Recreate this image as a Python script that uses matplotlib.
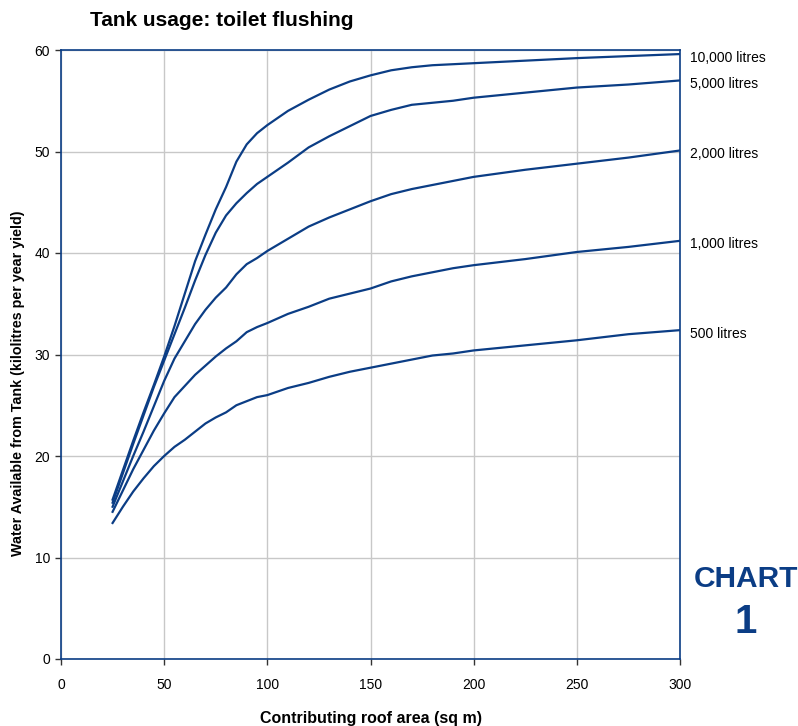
import matplotlib

matplotlib.use("Agg")
import matplotlib.pyplot as plt

plt.rcParams["font.family"] = ["Liberation Sans", "DejaVu Sans"]

# contributing roof area (sq m)
roof_area = [25, 30, 35, 40, 45, 50, 55, 60, 65, 70, 75, 80, 85, 90, 95, 100,
             110, 120, 130, 140, 150, 160, 170, 180, 190, 200, 225, 250, 275, 300]

# water available from tank (kL per year), one list per tank size
tank_10000 = [15.7, 18.6, 21.5, 24.3, 27.0, 29.8, 32.8, 36.0, 39.2, 41.8, 44.3, 46.5, 49.0, 50.7, 51.8, 52.6,
              54.0, 55.1, 56.1, 56.9, 57.5, 58.0, 58.3, 58.5, 58.6, 58.7, 58.95, 59.2, 59.4, 59.6]
tank_5000 = [15.4, 18.3, 21.2, 24.0, 26.8, 29.4, 32.0, 34.6, 37.3, 39.8, 42.0, 43.7, 44.9, 45.9, 46.8, 47.5,
             48.9, 50.4, 51.5, 52.5, 53.5, 54.1, 54.6, 54.8, 55.0, 55.3, 55.8, 56.3, 56.6, 57.0]
tank_2000 = [15.0, 17.5, 20.0, 22.4, 24.9, 27.4, 29.6, 31.3, 33.0, 34.4, 35.6, 36.6, 37.9, 38.9, 39.5, 40.2,
             41.4, 42.6, 43.5, 44.3, 45.1, 45.8, 46.3, 46.7, 47.1, 47.5, 48.2, 48.8, 49.4, 50.1]
tank_1000 = [14.5, 16.6, 18.7, 20.6, 22.5, 24.2, 25.8, 26.9, 28.0, 28.9, 29.8, 30.6, 31.3, 32.2, 32.7, 33.1,
             34.0, 34.7, 35.5, 36.0, 36.5, 37.2, 37.7, 38.1, 38.5, 38.8, 39.4, 40.1, 40.6, 41.2]
tank_500 = [13.4, 15.0, 16.5, 17.8, 19.0, 20.0, 20.9, 21.6, 22.4, 23.2, 23.8, 24.3, 25.0, 25.4, 25.8, 26.0,
            26.7, 27.2, 27.8, 28.3, 28.7, 29.1, 29.5, 29.9, 30.1, 30.4, 30.9, 31.4, 32.0, 32.4]

series = [tank_10000, tank_5000, tank_2000, tank_1000, tank_500]
labels = ["10,000 litres", "5,000 litres", "2,000 litres", "1,000 litres", "500 litres"]

line_color = "#0b3d85"

fig = plt.figure(figsize=(7.98, 7.26), dpi=100)
ax = fig.add_axes([61 / 798, 1 - 659 / 726, (680 - 61) / 798, (659 - 50) / 726])

for values, label in zip(series, labels):
    ax.plot(roof_area, values, color=line_color, linewidth=1.6, solid_joinstyle="round")
    ax.annotate(label, xy=(roof_area[-1], values[-1]), xytext=(7, -2.5), textcoords="offset points",
                ha="left", va="center", fontsize=10, color="black", annotation_clip=False)

ax.set_xlim(0, 300)
ax.set_ylim(0, 60)
ax.set_xticks(range(0, 301, 50))
ax.set_yticks(range(0, 61, 10))
ax.grid(True, color="#c8c8c8", linewidth=1)
ax.set_axisbelow(True)
for spine in ax.spines.values():
    spine.set_color(line_color)
    spine.set_linewidth(1.2)
ax.tick_params(axis="both", direction="out", length=4, width=1, color="#333333",
               labelsize=10, pad=4)
ax.tick_params(axis="x", pad=10)

ax.set_xlabel("Contributing roof area (sq m)", fontsize=11.5, fontweight="bold", labelpad=13)
fig.text(18 / 798, 1 - 383 / 726, "Water Available from Tank (kilolitres per year yield)",
         rotation=90, ha="center", va="center", fontsize=10.3, fontweight="bold")
fig.text(90 / 798, 1 - 21 / 726, "Tank usage: toilet flushing", ha="left", va="center",
         fontsize=15, fontweight="bold")

fig.text(746 / 798, 1 - 579 / 726, "CHART", ha="center", va="center", fontsize=21.5,
         fontweight="bold", color=line_color)
fig.text(746 / 798, 1 - 622 / 726, "1", ha="center", va="center", fontsize=29,
         fontweight="bold", color=line_color)

fig.savefig("out.png", dpi=100)
plt.close(fig)
